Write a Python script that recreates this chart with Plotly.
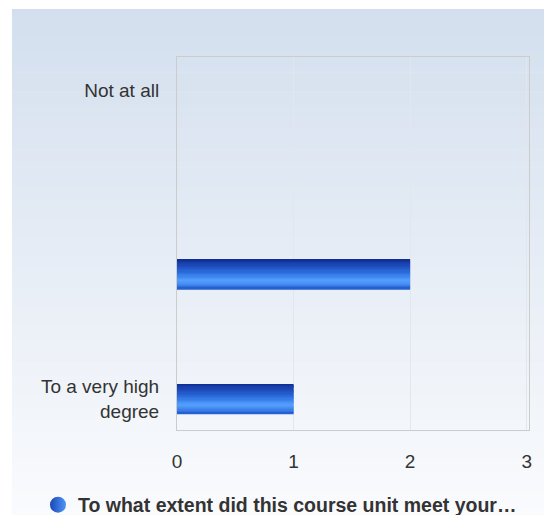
import plotly.graph_objects as go

# ---- data ----
categories = ["Not at all", "", "To a very high<br>degree"]
values = [0, 2, 1]
series_name = "To what extent did this course unit meet your…"
x_ticks = [0, 1, 2, 3]

# the page's body margin is removed below, so figure px == page px
W, H = 544, 515
PL, PR, PT, PB = 177, 529, 57, 430  # plot area (px)

def hexc(c):
    return "#%02x%02x%02x" % tuple(int(round(v)) for v in c)

def lerp(a, b, t):
    return tuple(a[i] + (b[i] - a[i]) * t for i in range(3))

def ramp(stops, t):
    for i in range(len(stops) - 1):
        t0, c0 = stops[i]
        t1, c1 = stops[i + 1]
        if t0 <= t <= t1:
            return lerp(c0, c1, (t - t0) / (t1 - t0) if t1 > t0 else 0)
    return stops[-1][1]

fig = go.Figure()

# bar drawn as stacked horizontal stripes to mimic the vertical gradient
ypos = list(range(len(categories)))
bar_offset = 0.25      # bars sit a little below the category centre
bar_thick = 0.235
N = 24
stripe = bar_thick / N
grad = [
    (0.0, (14, 44, 142)),
    (0.10, (22, 60, 168)),
    (0.45, (44, 110, 222)),
    (0.72, (84, 160, 255)),
    (0.88, (64, 132, 236)),
    (1.0, (30, 88, 202)),
]
for k in range(N):
    col = hexc(ramp(grad, (k + 0.5) / N))
    fig.add_trace(go.Bar(
        y=[p + bar_offset for p in ypos], x=values, orientation="h",
        width=stripe * 1.5, offset=-bar_thick / 2 + k * stripe,
        marker=dict(color=col, line=dict(width=0)),
        showlegend=False, hoverinfo="skip",
    ))

# legend entry with a round marker
fig.add_trace(go.Scatter(
    x=[None], y=[None], mode="markers", name="<b>" + series_name + "</b>",
    marker=dict(symbol="circle", size=17, color="#1b46b8",
                gradient=dict(type="horizontal", color="#4f97f5")),
))

def px2x(px):
    return (px - PL) / (PR - PL)

def py2y(py):
    return (PB - py) / (PB - PT)

# background gradient (chart container from x=12, y=9)
top_c = (211, 223, 238)
bot_c = (250, 251, 253)
nb = 80
y_start, y_end = 9, H
shapes = []
for i in range(nb):
    a = y_start + (y_end - y_start) * i / nb
    b = y_start + (y_end - y_start) * (i + 1) / nb + 0.6
    c = hexc(lerp(top_c, bot_c, (i + 0.5) / nb))
    shapes.append(dict(type="rect", xref="paper", yref="paper", layer="below",
                       x0=px2x(12), x1=px2x(W + 5), y0=py2y(b + (10 if i == nb - 1 else 0)),
                       y1=py2y(a), fillcolor=c, line=dict(width=0)))

font = "Liberation Sans, Arial, sans-serif"
FS = 19
fig.update_layout(
    width=W, height=H,
    margin=dict(l=PL, r=W - PR, t=PT, b=H - PB, autoexpand=False),
    paper_bgcolor="white",
    plot_bgcolor="rgba(0,0,0,0)",
    barmode="overlay",
    shapes=shapes,
    font=dict(family=font, size=FS, color="#333333"),
    showlegend=True,
    legend=dict(orientation="h", x=px2x(38), xanchor="left",
                y=py2y(505), yanchor="middle", bgcolor="rgba(0,0,0,0)",
                font=dict(family=font, size=19.5, color="#333333"),
                itemsizing="trace"),
    xaxis=dict(range=[0, 3.02], tickvals=x_ticks, ticktext=[str(t) for t in x_ticks],
               showgrid=True, gridcolor="#e3e6ea", gridwidth=1, zeroline=False,
               showline=True, linecolor="#cccccc", linewidth=1, mirror=True,
               ticks="", ticklabelstandoff=14, tickfont=dict(size=FS, color="#333333")),
    yaxis=dict(range=[2.5, -0.5], tickvals=[-0.235, 1 + bar_offset, 2 + bar_offset],
               ticktext=categories, showgrid=False, zeroline=False,
               showline=True, linecolor="#cccccc", linewidth=1, mirror=True,
               ticks="", ticklabelstandoff=13, tickfont=dict(size=FS, color="#333333")),
)

fig.write_html("out.html", config={"displayModeBar": False},
               post_script="document.body.style.margin='0';")
